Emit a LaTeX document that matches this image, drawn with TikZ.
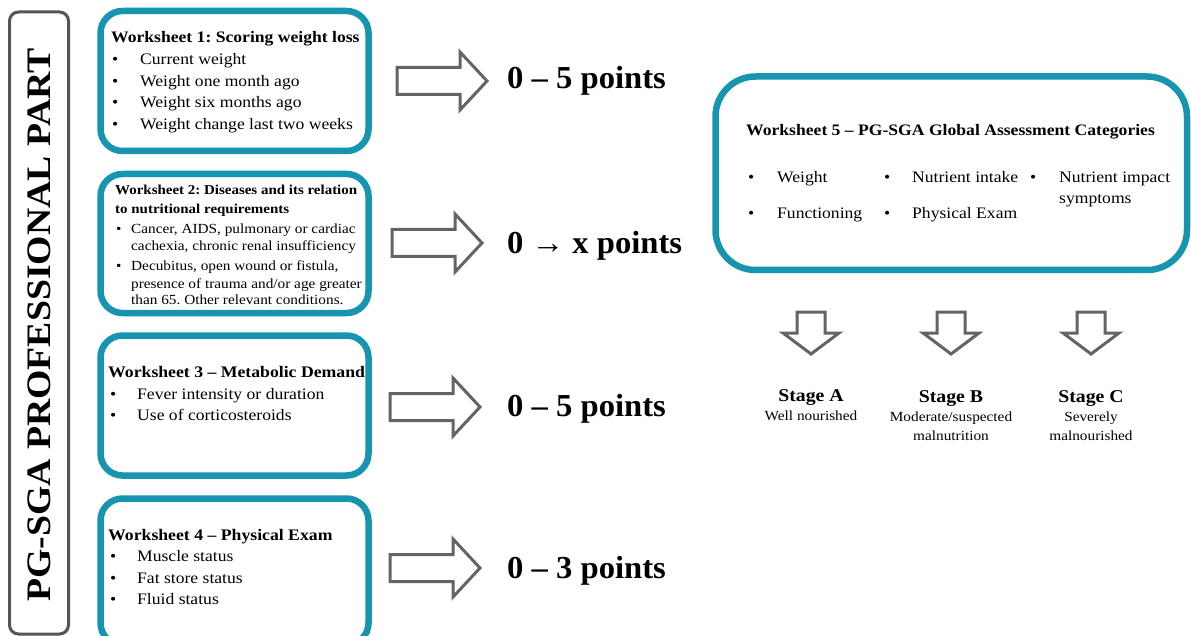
\documentclass[tikz,border=0pt]{standalone}
\usepackage{fontspec}
\setmainfont{Liberation Serif}[FakeStretch=1.1]
\newfontfamily\ptsfont{Liberation Serif}[FakeStretch=1.02]
\frenchspacing
\definecolor{teal}{RGB}{22,148,176}
\definecolor{boxgray}{RGB}{85,85,85}
\definecolor{arrgray}{RGB}{100,100,100}
\tikzset{
  wsbox/.style={draw=teal, line width=6.5pt, rounded corners=22pt},
  bigbox/.style={draw=teal, line width=6.5pt, rounded corners=40pt},
  arr/.style={draw=arrgray, line width=3pt, fill=white, line join=miter},
  txt/.style={anchor=base west, inner sep=0pt, font=\fontsize{#1}{#1}\selectfont},
  ttl/.style={anchor=base west, inner sep=0pt, font=\fontsize{#1}{#1}\selectfont\bfseries},
  ctr/.style={anchor=base, inner sep=0pt, font=\fontsize{#1}{#1}\selectfont},
  cttl/.style={anchor=base, inner sep=0pt, font=\fontsize{#1}{#1}\selectfont\bfseries},
  pts/.style={anchor=base west, inner sep=0pt, font=\ptsfont\fontsize{32}{32}\selectfont\bfseries},
  pics/rarr/.style={code={\draw[arr] (0,-13.5) -- (63,-13.5) -- (63,-29) -- (90,0) -- (63,29) -- (63,13.5) -- (0,13.5) -- cycle;}},
  pics/darr/.style={code={\draw[arr] (-14,0) -- (14,0) -- (14,21) -- (28,21) -- (0,42) -- (-28,21) -- (-14,21) -- cycle;}},
}
\begin{document}
\begin{tikzpicture}[x=1pt,y=-1pt]
\clip (0,0) rectangle (1191,636);
\useasboundingbox (0,0) rectangle (1191,636);
% left label box
\draw[draw=boxgray, line width=3pt, rounded corners=9pt] (9.5,12) rectangle (68.5,634);
\node[cttl=34.3, rotate=90] (lbl) at (50,325) {PG-SGA PROFESSIONAL PART};

% worksheet boxes
\draw[wsbox] (100.5,11) rectangle (368.5,151);
\draw[wsbox] (100.5,174) rectangle (368.5,313);
\draw[wsbox] (100.5,335.5) rectangle (368.5,475.5);
\draw[wsbox] (100.5,498.5) rectangle (368.5,645);

% worksheet 1
\node[ttl=16] (t1) at (111,43) {Worksheet 1: Scoring weight loss};
\foreach \yy/\tt [count=\i] in {64.5/Current weight,86.2/Weight one month ago,107.8/Weight six months ago,129.5/Weight change last two weeks}{
  \node[txt=16] (b1\i) at (112,\yy) {•};
  \node[txt=16] (i1\i) at (140,\yy) {\tt};
}
% worksheet 2
\node[ttl=13.6] (t2a) at (115,195) {Worksheet 2: Diseases and its relation};
\node[ttl=13.6] (t2b) at (115,214) {to nutritional requirements};
\node[txt=13.9] (b21) at (116,234) {•};
\node[txt=13.9] (b22) at (116,271) {•};
\node[txt=13.9] (i21) at (131,234) {Cancer, AIDS, pulmonary or cardiac};
\node[txt=13.9] (i22) at (131,251) {cachexia, chronic renal insufficiency};
\node[txt=13.9] (i23) at (131,271) {Decubitus, open wound or fistula,};
\node[txt=13.9] (i24) at (131,288) {presence of trauma and/or age greater};
\node[txt=13.9] (i25) at (131,305) {than 65. Other relevant conditions.};
% worksheet 3
\node[ttl=16.1] (t3) at (108,377.5) {Worksheet 3 – Metabolic Demand};
\node[txt=16] (b31) at (110,399.5) {•};
\node[txt=16] (b32) at (110,420.5) {•};
\node[txt=16] (i31) at (137,399.5) {Fever intensity or duration};
\node[txt=16] (i32) at (137,420.5) {Use of corticosteroids};
% worksheet 4
\node[ttl=16.1] (t4) at (108,540.5) {Worksheet 4 – Physical Exam};
\node[txt=16] (b41) at (110,561.5) {•};
\node[txt=16] (b42) at (110,583.5) {•};
\node[txt=16] (b43) at (110,604.5) {•};
\node[txt=16] (i41) at (137,561.5) {Muscle status};
\node[txt=16] (i42) at (137,583.5) {Fat store status};
\node[txt=16] (i43) at (137,604.5) {Fluid status};

% right arrows and points
\pic at (397,81) {rarr};
\pic at (392,243) {rarr};
\pic at (390,407) {rarr};
\pic at (390,568) {rarr};
\node[pts] (p1) at (507,89) {0 – 5 points};
\node[pts] (p2) at (507,254) {0 → x points};
\node[pts] (p3) at (507,416) {0 – 5 points};
\node[pts] (p4) at (507,578) {0 – 3 points};

% worksheet 5
\draw[bigbox] (715.5,76.5) rectangle (1187,270);
\node[ttl=16] (t5) at (746,135.5) {Worksheet 5 – PG-SGA Global Assessment Categories};
\node[txt=16] (b51) at (748,182.5) {•};
\node[txt=16] (b52) at (748,218.5) {•};
\node[txt=16] (b53) at (884,182.5) {•};
\node[txt=16] (b54) at (884,218.5) {•};
\node[txt=16] (b55) at (1030,182.5) {•};
\node[txt=16] (i51) at (777,182.5) {Weight};
\node[txt=16] (i52) at (777,218.5) {Functioning};
\node[txt=16] (i53) at (912,182.5) {Nutrient intake};
\node[txt=16] (i54) at (912,218.5) {Physical Exam};
\node[txt=16] (i55) at (1059,182.5) {Nutrient impact};
\node[txt=16] (i56) at (1059,204) {symptoms};

% down arrows and stages
\pic at (811,312) {darr};
\pic at (951,312) {darr};
\pic at (1091,312) {darr};
\node[cttl=18] (sa) at (811,401.7) {Stage A};
\node[ctr=13.9] (sa1) at (811,420.7) {Well nourished};
\node[cttl=18] (sb) at (951,402.5) {Stage B};
\node[ctr=13.9] (sb1) at (951,421.5) {Moderate/suspected};
\node[ctr=13.9] (sb2) at (951,440.5) {malnutrition};
\node[cttl=18] (sc) at (1091,402.5) {Stage C};
\node[ctr=13.9] (sc1) at (1091,421.5) {Severely};
\node[ctr=13.9] (sc2) at (1091,440.5) {malnourished};
\end{tikzpicture}
\end{document}
